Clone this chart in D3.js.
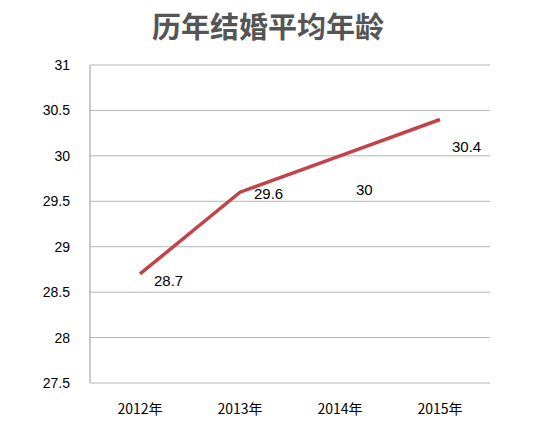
<!DOCTYPE html>
<html><head><meta charset="utf-8">
<script src="https://cdn.jsdelivr.net/npm/d3@7"></script>
<style>body{margin:0;background:#fff}</style>
</head><body><div id="chart"></div>
<script>
var years = ["2012年", "2013年", "2014年", "2015年"];
var ages = [28.7, 29.6, 30, 30.4];
var yTicks = [27.5, 28, 28.5, 29, 29.5, 30, 30.5, 31];
var title = "历年结婚平均年龄";

var width = 544, height = 430;
var svg = d3.select('#chart').append('svg')
    .attr('width', width).attr('height', height);

var x = d3.scaleBand().domain(years).range([90, 490]);
var y = d3.scaleLinear().domain([27.5, 31]).range([383, 65]);

svg.append('text').attr('x', 268).attr('y', 38)
    .attr('text-anchor', 'middle')
    .style('font-family', '"Noto Sans CJK SC"').style('font-weight', 'bold')
    .style('font-size', '29px').attr('fill', '#555').text(title);

svg.selectAll('line.grid').data(yTicks).enter().append('line')
    .attr('class', 'grid')
    .attr('x1', 90).attr('x2', 490)
    .attr('y1', function(d) { return y(d); }).attr('y2', function(d) { return y(d); })
    .attr('stroke', '#b5b5b5').attr('stroke-width', 1);

svg.append('line').attr('x1', 90).attr('x2', 90).attr('y1', 65).attr('y2', 383)
    .attr('stroke', '#999');

svg.selectAll('text.yt').data(yTicks).enter().append('text')
    .attr('x', 70).attr('y', function(d) { return y(d) + 5; })
    .attr('text-anchor', 'end')
    .style('font-family', 'Liberation Sans').style('font-size', '14px')
    .text(function(d) { return d; });

svg.selectAll('text.xt').data(years).enter().append('text')
    .attr('x', function(d) { return x(d) + x.bandwidth() / 2; }).attr('y', 414)
    .attr('text-anchor', 'middle')
    .style('font-family', '"Noto Sans CJK SC"').style('font-size', '14px')
    .text(function(d) { return d; });

var line = d3.line()
    .x(function(d, i) { return x(years[i]) + x.bandwidth() / 2; })
    .y(function(d) { return y(d); });

svg.append('path').datum(ages).attr('d', line)
    .attr('fill', 'none').attr('stroke', '#c0444a').attr('stroke-width', 3.5);

var offs = [[14, 12], [14, 7], [16, 39], [12, 32]];
svg.selectAll('text.lbl').data(ages).enter().append('text')
    .attr('x', function(d, i) { return x(years[i]) + x.bandwidth() / 2 + offs[i][0]; })
    .attr('y', function(d, i) { return y(d) + offs[i][1]; })
    .style('font-family', 'Liberation Sans').style('font-size', '15px')
    .text(function(d) { return d; });
</script></body></html>
